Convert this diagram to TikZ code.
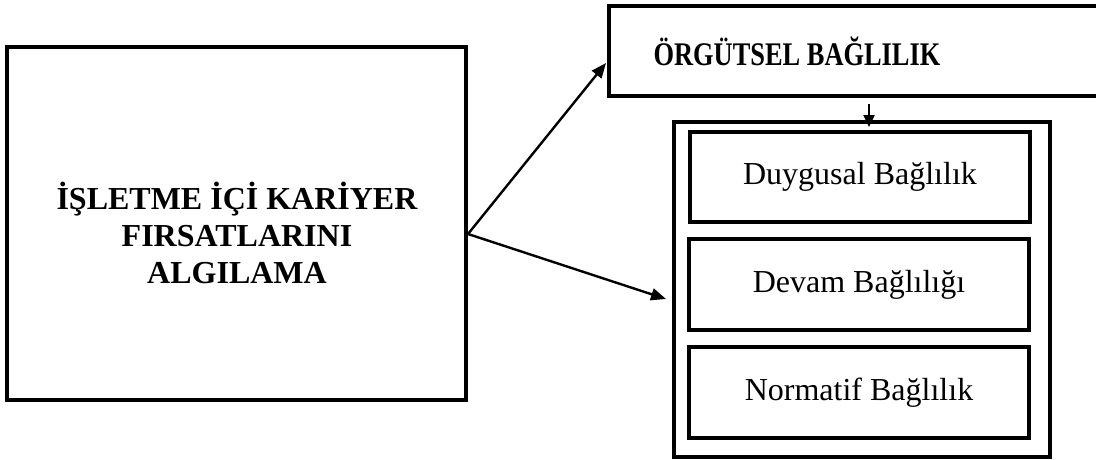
\documentclass[tikz,border=0pt]{standalone}
\usepackage{fontspec}
\setmainfont{Liberation Serif}
\usetikzlibrary{arrows.meta,calc}
\tikzset{
  box/.style={draw=black, line width=4pt, rectangle, inner sep=0pt},
  arr/.style={line width=2.4pt, -{Triangle[length=15pt,width=12pt]}},
  darr/.style={line width=2.4pt, -{Triangle[length=12pt,width=11pt]}},
  bigtxt/.style={font=\fontsize{32}{36.7}\selectfont\bfseries, align=center},
  smtxt/.style={font=\fontsize{32}{38}\selectfont},
}
\begin{document}
\begin{tikzpicture}[x=1pt,y=1pt]
\useasboundingbox (0,0) rectangle (1096,-459);
\clip (0,0) rectangle (1096,-459);
% left box
\node[box, minimum width=459pt, minimum height=353pt] (L) at (236.5,-223.5) {};
\node[bigtxt] (Lt) at (237,-233) {İŞLETME İÇİ KARİYER\\FIRSATLARINI\\ALGILAMA};
% top box
\node[box, minimum width=495pt, minimum height=90pt] (org) at (856.5,-51) {};
\node[font=\fontsize{33}{38}\selectfont\bfseries, anchor=base] (orgt) at (797,-65) {\scalebox{0.8}[1]{ÖRGÜTSEL BAĞLILIK}};
% outer box
\node[box, minimum width=376pt, minimum height=335pt] (outer) at (862,-289.5) {};
% inner boxes
\node[box, minimum width=340pt, minimum height=90pt, smtxt] (d1) at (860,-177) {Duygusal Bağlılık};
\node[box, minimum width=340pt, minimum height=91pt, smtxt] (d2) at (859,-284.5) {Devam Bağlılığı};
\node[box, minimum width=340pt, minimum height=91pt, smtxt] (d3) at (859,-392.5) {Normatif Bağlılık};
% connectors
\coordinate (src) at ($(L.east)+(0,-10.5)$);
\coordinate (t1) at ($(org.west)+(-1,-12)$);
\coordinate (t2) at ($(outer.west)+(-6,-9.5)$);
\coordinate (s3) at ($(org.south)+(12.5,-6)$);
\coordinate (t3) at ($(outer.north)+(7,-7)$);
\draw[arr] (src) -- (t1);
\draw[arr] (src) -- (t2);
\draw[darr] (s3) -- (t3);
\end{tikzpicture}
\end{document}
